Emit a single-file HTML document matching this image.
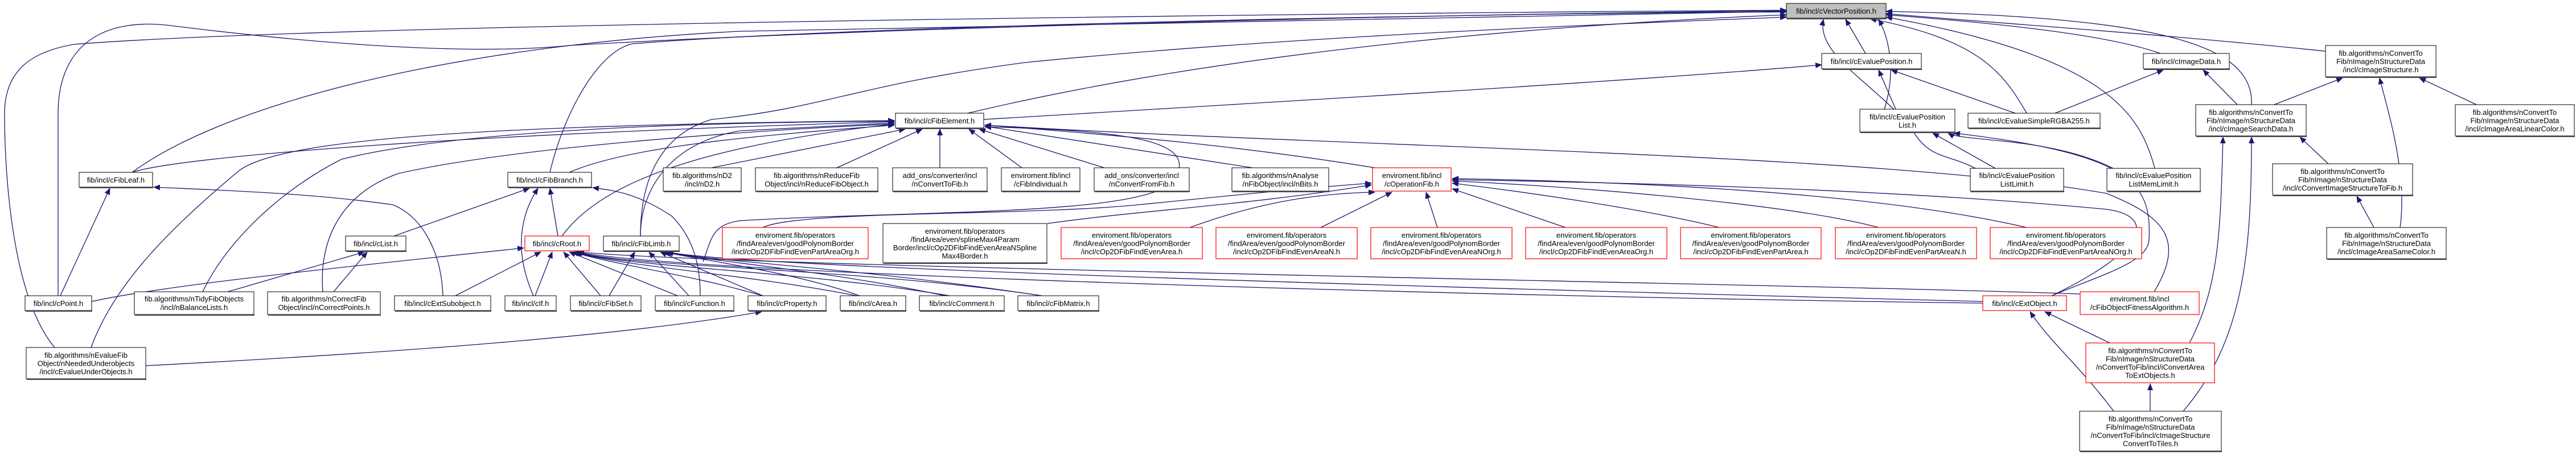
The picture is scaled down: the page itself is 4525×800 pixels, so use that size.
<!DOCTYPE html>
<html><head><meta charset="utf-8"><style>
html,body{margin:0;padding:0;background:#fff;}
svg{display:block;}
text{font-family:"Liberation Sans",Arial,sans-serif;font-size:13px;fill:#000;text-anchor:middle;}
.e{fill:none;stroke:#191970;stroke-width:1.3;marker-end:url(#a);}
.n{fill:#fff;stroke:#000;stroke-width:1;}
.r{fill:#fff;stroke:#ff0000;stroke-width:1.2;}
.g{fill:#bfbfbf;stroke:#000;stroke-width:1;}
</style></head><body>
<svg width="4525" height="800" viewBox="0 0 4525 800" xmlns="http://www.w3.org/2000/svg">
<defs><marker id="a" markerWidth="12" markerHeight="10" refX="11" refY="5" orient="auto" markerUnits="userSpaceOnUse"><path d="M0,0 L12,5 L0,10 z" fill="#191970"/></marker></defs>
<g id="edges">
<path class="e" d="M96 611 C20 520,8 300,8 200 C8 120,60 90,130 78 C600 40,2500 22,3138 18"/>
<path class="e" d="M102 520 L102 200 C102 80,180 30,300 45 C500 70,800 100,1000 80 C1500 50,2500 25,3138 19"/>
<path class="e" d="M232 303 C400 180,800 80,1300 55 L3138 20"/>
<path class="e" d="M966 303 C990 200,1050 90,1111 77 C1500 45,2600 23,3138 21"/>
<path class="e" d="M1700 199 C2200 80,2800 40,3138 26"/>
<path class="e" d="M1125 415 C1125 330,1150 240,1250 210 C1450 190,1500 150,1800 110 C2300 60,2900 40,3138 30"/>
<path class="e" d="M3277 94 L3242 34"/>
<path class="e" d="M3310 192 C3330 130,3320 70,3300 34"/>
<path class="e" d="M3560 199 C3520 130,3480 70,3285 33"/>
<path class="e" d="M3470 296 C3420 270,3390 280,3360 230 C3300 150,3190 100,3203 34"/>
<path class="e" d="M3785 296 C3760 200,3700 100,3313 30"/>
<path class="e" d="M3795 94 C3700 60,3500 40,3313 26"/>
<path class="e" d="M4085 90 C3800 60,3500 40,3313 24"/>
<path class="e" d="M3955 184 C3960 80,3800 30,3313 20"/>
<path class="e" d="M1728 210 C2400 170,2900 140,3200 114"/>
<path class="e" d="M3330 192 L3300 123"/>
<path class="e" d="M3540 199 L3322 123"/>
<path class="e" d="M3610 199 L3800 123"/>
<path class="e" d="M3930 184 L3870 123"/>
<path class="e" d="M3995 184 L4115 137"/>
<path class="e" d="M4350 184 L4250 137"/>
<path class="e" d="M4216 400 C4230 300,4190 180,4180 137"/>
<path class="e" d="M3505 296 L3395 234"/>
<path class="e" d="M3712 296 C3600 240,3450 250,3422 234"/>
<path class="e" d="M3604 520 C3700 480,3775 460,3775 420 C3780 320,3740 270,3432 234"/>
<path class="e" d="M3784 513 C3840 420,3800 380,3700 340 C3300 270,2400 260,1730 220"/>
<path class="e" d="M4090 288 L4040 241"/>
<path class="e" d="M3846 603 C3900 500,3900 400,3905 241"/>
<path class="e" d="M3835 723 C3940 600,3955 450,3955 241"/>
<path class="e" d="M4170 400 L4140 345"/>
<path class="e" d="M3777 723 L3777 675"/>
<path class="e" d="M3706 603 L3592 548"/>
<path class="e" d="M3713 723 C3650 640,3600 600,3566 548"/>
<path class="e" d="M3604 520 C3770 440,3790 380,3700 368 C3300 330,2800 320,2551 316"/>
<path class="e" d="M232 303 C300 280,700 240,1571 214"/>
<path class="e" d="M1000 303 C1100 260,1300 240,1571 220"/>
<path class="e" d="M1250 295 L1590 227"/>
<path class="e" d="M1470 295 L1620 227"/>
<path class="e" d="M1651 295 L1651 227"/>
<path class="e" d="M1795 295 L1702 227"/>
<path class="e" d="M1940 295 L1720 227"/>
<path class="e" d="M2200 295 L1730 222"/>
<path class="e" d="M2415 295 C2200 260,2000 240,1730 220"/>
<path class="e" d="M987 415 C1050 330,1200 260,1571 218"/>
<path class="e" d="M1125 415 C1125 330,1180 250,1300 230 L1571 216"/>
<path class="e" d="M160 611 C200 500,300 400,420 300 C500 240,900 220,1571 212"/>
<path class="e" d="M356 513 C400 420,500 330,600 280 C800 230,1200 215,1571 213"/>
<path class="e" d="M567 513 C560 420,600 340,700 305 C900 260,1300 230,1571 218"/>
<path class="e" d="M1230 520 C1230 470,1220 420,1180 380 C1120 340,1080 335,1041 330"/>
<path class="e" d="M1235 460 C1250 420,1250 395,1300 388 C1600 370,2000 380,2060 320 C2110 250,2000 230,1730 223"/>
<path class="e" d="M692 415 L930 331"/>
<path class="e" d="M937 520 C915 470,900 400,945 331"/>
<path class="e" d="M980 415 L966 331"/>
<path class="e" d="M106 520 L193 331"/>
<path class="e" d="M778 520 C775 440,740 380,690 360 C550 340,400 335,270 329"/>
<path class="e" d="M400 513 L640 443"/>
<path class="e" d="M586 513 L645 443"/>
<path class="e" d="M161 530 C300 500,600 470,920 436"/>
<path class="e" d="M800 520 L950 443"/>
<path class="e" d="M940 520 L970 443"/>
<path class="e" d="M1055 520 L990 443"/>
<path class="e" d="M1190 520 L1000 443"/>
<path class="e" d="M1340 520 C1200 480,1100 470,1005 443"/>
<path class="e" d="M1505 520 C1300 480,1100 470,1008 443"/>
<path class="e" d="M1668 520 C1400 475,1100 470,1010 443"/>
<path class="e" d="M1830 520 C1500 470,1100 470,1012 443"/>
<path class="e" d="M3483 533 C2500 520,1200 480,1012 443"/>
<path class="e" d="M3654 517 C3200 500,1300 470,1015 443"/>
<path class="e" d="M1070 520 L1115 443"/>
<path class="e" d="M1210 520 L1140 443"/>
<path class="e" d="M1340 520 L1160 443"/>
<path class="e" d="M1510 520 C1400 480,1250 460,1165 443"/>
<path class="e" d="M1660 520 C1450 475,1250 460,1168 443"/>
<path class="e" d="M1830 520 C1500 470,1250 460,1170 443"/>
<path class="e" d="M3483 530 C2500 505,1300 470,1172 443"/>
<path class="e" d="M256 643 C700 620,1100 590,1338 548"/>
<path class="e" d="M1340 400 C1400 370,1800 380,2000 360 C2200 340,2300 330,2409 322"/>
<path class="e" d="M1840 393 C2000 370,2200 360,2409 325"/>
<path class="e" d="M2090 400 C2200 360,2300 340,2415 338"/>
<path class="e" d="M2320 400 L2445 338"/>
<path class="e" d="M2525 400 L2505 338"/>
<path class="e" d="M2750 400 L2551 332"/>
<path class="e" d="M3020 400 C2900 370,2700 340,2551 322"/>
<path class="e" d="M3300 400 C3150 360,2800 330,2551 318"/>
<path class="e" d="M3560 400 C3300 340,2900 320,2551 314"/>
</g>
<g id="nodes">
<!-- row 1 -->
<rect class="g" x="3138" y="6" width="175" height="26"/><line x1="3139" y1="33" x2="3314" y2="33" stroke="#444" stroke-width="2"/>
<text x="3225.5" y="24">fib/incl/cVectorPosition.h</text>
<!-- row 2 -->
<rect class="n" x="3200" y="94" width="175" height="27"/><line x1="3201" y1="122" x2="3376" y2="122" stroke="#444" stroke-width="2"/>
<text x="3287.5" y="112.5">fib/incl/cEvaluePosition.h</text>
<rect class="n" x="3765" y="94" width="151" height="27"/><line x1="3766" y1="122" x2="3917" y2="122" stroke="#444" stroke-width="2"/>
<text x="3840.5" y="112.5">fib/incl/cImageData.h</text>
<rect class="n" x="4085" y="80" width="194" height="55"/><line x1="4086" y1="136" x2="4280" y2="136" stroke="#444" stroke-width="2"/>
<text x="4182" y="98">fib.algorithms/nConvertTo</text><text x="4182" y="112.5">Fib/nImage/nStructureData</text><text x="4182" y="127">/incl/cImageStructure.h</text>
<!-- row 3 -->
<rect class="n" x="1573" y="199" width="155" height="26"/><line x1="1574" y1="226" x2="1729" y2="226" stroke="#444" stroke-width="2"/>
<text x="1650.5" y="217">fib/incl/cFibElement.h</text>
<rect class="n" x="3267" y="192" width="167" height="40"/><line x1="3268" y1="233" x2="3435" y2="233" stroke="#444" stroke-width="2"/>
<text x="3350.5" y="210">fib/incl/cEvaluePosition</text><text x="3350.5" y="224.5">List.h</text>
<rect class="n" x="3457" y="199" width="232" height="26"/><line x1="3458" y1="226" x2="3690" y2="226" stroke="#444" stroke-width="2"/>
<text x="3573" y="217">fib/incl/cEvalueSimpleRGBA255.h</text>
<rect class="n" x="3857" y="184" width="194" height="55"/><line x1="3858" y1="240" x2="4052" y2="240" stroke="#444" stroke-width="2"/>
<text x="3954" y="202">fib.algorithms/nConvertTo</text><text x="3954" y="216.5">Fib/nImage/nStructureData</text><text x="3954" y="231">/incl/cImageSearchData.h</text>
<rect class="n" x="4313" y="184" width="209" height="55"/><line x1="4314" y1="240" x2="4523" y2="240" stroke="#444" stroke-width="2"/>
<text x="4417.5" y="202">fib.algorithms/nConvertTo</text><text x="4417.5" y="216.5">Fib/nImage/nStructureData</text><text x="4417.5" y="231">/incl/cImageAreaLinearColor.h</text>
<!-- row 4 -->
<rect class="n" x="139" y="303" width="129" height="26"/><line x1="140" y1="330" x2="269" y2="330" stroke="#444" stroke-width="2"/>
<text x="203.5" y="321">fib/incl/cFibLeaf.h</text>
<rect class="n" x="892" y="303" width="147" height="26"/><line x1="893" y1="330" x2="1040" y2="330" stroke="#444" stroke-width="2"/>
<text x="965.5" y="321">fib/incl/cFibBranch.h</text>
<rect class="n" x="1165" y="295" width="137" height="41"/><line x1="1166" y1="337" x2="1303" y2="337" stroke="#444" stroke-width="2"/>
<text x="1233.5" y="313">fib.algorithms/nD2</text><text x="1233.5" y="328">/incl/nD2.h</text>
<rect class="n" x="1327" y="295" width="215" height="41"/><line x1="1328" y1="337" x2="1543" y2="337" stroke="#444" stroke-width="2"/>
<text x="1434.5" y="313">fib.algorithms/nReduceFib</text><text x="1434.5" y="328">Object/incl/nReduceFibObject.h</text>
<rect class="n" x="1568" y="295" width="166" height="41"/><line x1="1569" y1="337" x2="1735" y2="337" stroke="#444" stroke-width="2"/>
<text x="1651" y="313">add_ons/converter/incl</text><text x="1651" y="328">/nConvertToFib.h</text>
<rect class="n" x="1759" y="295" width="138" height="41"/><line x1="1760" y1="337" x2="1898" y2="337" stroke="#444" stroke-width="2"/>
<text x="1828" y="313">enviroment.fib/incl</text><text x="1828" y="328">/cFibIndividual.h</text>
<rect class="n" x="1922" y="295" width="167" height="41"/><line x1="1923" y1="337" x2="2090" y2="337" stroke="#444" stroke-width="2"/>
<text x="2005.5" y="313">add_ons/converter/incl</text><text x="2005.5" y="328">/nConvertFromFib.h</text>
<rect class="n" x="2164" y="295" width="170" height="41"/><line x1="2165" y1="337" x2="2335" y2="337" stroke="#444" stroke-width="2"/>
<text x="2249" y="313">fib.algorithms/nAnalyse</text><text x="2249" y="328">/nFibObject/incl/nBits.h</text>
<rect class="r" x="2411" y="295" width="138" height="41"/>
<text x="2480" y="313">enviroment.fib/incl</text><text x="2480" y="328">/cOperationFib.h</text>
<rect class="n" x="3461" y="296" width="164" height="40"/><line x1="3462" y1="337" x2="3626" y2="337" stroke="#444" stroke-width="2"/>
<text x="3543" y="313">fib/incl/cEvaluePosition</text><text x="3543" y="328">ListLimit.h</text>
<rect class="n" x="3701" y="296" width="164" height="40"/><line x1="3702" y1="337" x2="3866" y2="337" stroke="#444" stroke-width="2"/>
<text x="3783" y="313">fib/incl/cEvaluePosition</text><text x="3783" y="328">ListMemLimit.h</text>
<rect class="n" x="3992" y="288" width="246" height="55"/><line x1="3993" y1="344" x2="4239" y2="344" stroke="#444" stroke-width="2"/>
<text x="4115" y="306">fib.algorithms/nConvertTo</text><text x="4115" y="320.5">Fib/nImage/nStructureData</text><text x="4115" y="335">/incl/cConvertImageStructureToFib.h</text>
<!-- row 5 -->
<rect class="n" x="607" y="415" width="106" height="26"/><line x1="608" y1="442" x2="714" y2="442" stroke="#444" stroke-width="2"/>
<text x="660" y="433">fib/incl/cList.h</text>
<rect class="r" x="922" y="415" width="113" height="26"/>
<text x="978.5" y="433">fib/incl/cRoot.h</text>
<rect class="n" x="1060" y="415" width="133" height="26"/><line x1="1061" y1="442" x2="1194" y2="442" stroke="#444" stroke-width="2"/>
<text x="1126.5" y="433">fib/incl/cFibLimb.h</text>
<rect class="r" x="1269" y="400" width="256" height="55"/>
<text x="1397" y="418">enviroment.fib/operators</text><text x="1397" y="432.5">/findArea/even/goodPolynomBorder</text><text x="1397" y="447">/incl/cOp2DFibFindEvenPartAreaOrg.h</text>
<rect class="n" x="1551" y="393" width="288" height="69"/><line x1="1552" y1="463" x2="1840" y2="463" stroke="#444" stroke-width="2"/>
<text x="1695" y="411">enviroment.fib/operators</text><text x="1695" y="425.5">/findArea/even/splineMax4Param</text><text x="1695" y="440">Border/incl/cOp2DFibFindEvenAreaNSpline</text><text x="1695" y="454.5">Max4Border.h</text>
<rect class="r" x="1864" y="400" width="248" height="55"/>
<text x="1988" y="418">enviroment.fib/operators</text><text x="1988" y="432.5">/findArea/even/goodPolynomBorder</text><text x="1988" y="447">/incl/cOp2DFibFindEvenArea.h</text>
<rect class="r" x="2136" y="400" width="248" height="55"/>
<text x="2260" y="418">enviroment.fib/operators</text><text x="2260" y="432.5">/findArea/even/goodPolynomBorder</text><text x="2260" y="447">/incl/cOp2DFibFindEvenAreaN.h</text>
<rect class="r" x="2408" y="400" width="248" height="55"/>
<text x="2532" y="418">enviroment.fib/operators</text><text x="2532" y="432.5">/findArea/even/goodPolynomBorder</text><text x="2532" y="447">/incl/cOp2DFibFindEvenAreaNOrg.h</text>
<rect class="r" x="2680" y="400" width="248" height="55"/>
<text x="2804" y="418">enviroment.fib/operators</text><text x="2804" y="432.5">/findArea/even/goodPolynomBorder</text><text x="2804" y="447">/incl/cOp2DFibFindEvenAreaOrg.h</text>
<rect class="r" x="2952" y="400" width="247" height="55"/>
<text x="3075.5" y="418">enviroment.fib/operators</text><text x="3075.5" y="432.5">/findArea/even/goodPolynomBorder</text><text x="3075.5" y="447">/incl/cOp2DFibFindEvenPartArea.h</text>
<rect class="r" x="3224" y="400" width="248" height="55"/>
<text x="3348" y="418">enviroment.fib/operators</text><text x="3348" y="432.5">/findArea/even/goodPolynomBorder</text><text x="3348" y="447">/incl/cOp2DFibFindEvenPartAreaN.h</text>
<rect class="r" x="3496" y="400" width="266" height="55"/>
<text x="3629" y="418">enviroment.fib/operators</text><text x="3629" y="432.5">/findArea/even/goodPolynomBorder</text><text x="3629" y="447">/incl/cOp2DFibFindEvenPartAreaNOrg.h</text>
<rect class="n" x="4087" y="400" width="210" height="55"/><line x1="4088" y1="456" x2="4298" y2="456" stroke="#444" stroke-width="2"/>
<text x="4192" y="418">fib.algorithms/nConvertTo</text><text x="4192" y="432.5">Fib/nImage/nStructureData</text><text x="4192" y="447">/incl/cImageAreaSameColor.h</text>
<!-- row 6 -->
<rect class="n" x="44" y="520" width="117" height="26"/><line x1="45" y1="547" x2="162" y2="547" stroke="#444" stroke-width="2"/>
<text x="102.5" y="538">fib/incl/cPoint.h</text>
<rect class="n" x="236" y="513" width="210" height="40"/><line x1="237" y1="554" x2="447" y2="554" stroke="#444" stroke-width="2"/>
<text x="341" y="530">fib.algorithms/nTidyFibObjects</text><text x="341" y="545">/incl/nBalanceLists.h</text>
<rect class="n" x="470" y="513" width="198" height="40"/><line x1="471" y1="554" x2="669" y2="554" stroke="#444" stroke-width="2"/>
<text x="569" y="530">fib.algorithms/nCorrectFib</text><text x="569" y="545">Object/incl/nCorrectPoints.h</text>
<rect class="n" x="693" y="520" width="169" height="26"/><line x1="694" y1="547" x2="863" y2="547" stroke="#444" stroke-width="2"/>
<text x="777.5" y="538">fib/incl/cExtSubobject.h</text>
<rect class="n" x="887" y="520" width="90" height="26"/><line x1="888" y1="547" x2="978" y2="547" stroke="#444" stroke-width="2"/>
<text x="932" y="538">fib/incl/cIf.h</text>
<rect class="n" x="1002" y="520" width="124" height="26"/><line x1="1003" y1="547" x2="1127" y2="547" stroke="#444" stroke-width="2"/>
<text x="1064" y="538">fib/incl/cFibSet.h</text>
<rect class="n" x="1151" y="520" width="138" height="26"/><line x1="1152" y1="547" x2="1290" y2="547" stroke="#444" stroke-width="2"/>
<text x="1220" y="538">fib/incl/cFunction.h</text>
<rect class="n" x="1314" y="520" width="137" height="26"/><line x1="1315" y1="547" x2="1452" y2="547" stroke="#444" stroke-width="2"/>
<text x="1382.5" y="538">fib/incl/cProperty.h</text>
<rect class="n" x="1476" y="520" width="115" height="26"/><line x1="1477" y1="547" x2="1592" y2="547" stroke="#444" stroke-width="2"/>
<text x="1533.5" y="538">fib/incl/cArea.h</text>
<rect class="n" x="1615" y="520" width="149" height="26"/><line x1="1616" y1="547" x2="1765" y2="547" stroke="#444" stroke-width="2"/>
<text x="1689.5" y="538">fib/incl/cComment.h</text>
<rect class="n" x="1788" y="520" width="142" height="26"/><line x1="1789" y1="547" x2="1931" y2="547" stroke="#444" stroke-width="2"/>
<text x="1859" y="538">fib/incl/cFibMatrix.h</text>
<rect class="r" x="3483" y="520" width="147" height="26"/>
<text x="3556.5" y="538">fib/incl/cExtObject.h</text>
<rect class="r" x="3654" y="513" width="209" height="40"/>
<text x="3758.5" y="530">enviroment.fib/incl</text><text x="3758.5" y="545">/cFibObjectFitnessAlgorithm.h</text>
<!-- row 7 -->
<rect class="n" x="46" y="611" width="210" height="55"/><line x1="47" y1="667" x2="257" y2="667" stroke="#444" stroke-width="2"/>
<text x="151" y="629">fib.algorithms/nEvalueFib</text><text x="151" y="643.5">Object/nNeededUnderobjects</text><text x="151" y="658">/incl/cEvalueUnderObjects.h</text>
<rect class="r" x="3664" y="603" width="226" height="70"/>
<text x="3777" y="621">fib.algorithms/nConvertTo</text><text x="3777" y="635.5">Fib/nImage/nStructureData</text><text x="3777" y="650">/nConvertToFib/incl/iConvertArea</text><text x="3777" y="664.5">ToExtObjects.h</text>
<!-- row 8 -->
<rect class="n" x="3653" y="723" width="249" height="70"/><line x1="3654" y1="794" x2="3903" y2="794" stroke="#444" stroke-width="2"/>
<text x="3777.5" y="741">fib.algorithms/nConvertTo</text><text x="3777.5" y="755.5">Fib/nImage/nStructureData</text><text x="3777.5" y="770">/nConvertToFib/incl/cImageStructure</text><text x="3777.5" y="784.5">ConvertToTiles.h</text>
</g>
</svg>
<script>
(function(){
var rects=[].slice.call(document.querySelectorAll('#nodes rect'));
var texts=[].slice.call(document.querySelectorAll('#nodes text'));
texts.forEach(function(t){
  var cx=parseFloat(t.getAttribute('x')),cy=parseFloat(t.getAttribute('y'));
  var best=null;
  rects.forEach(function(r){
    var x=+r.getAttribute('x'),y=+r.getAttribute('y'),w=+r.getAttribute('width'),h=+r.getAttribute('height');
    if(cx>x&&cx<x+w&&cy>y&&cy<y+h+4)best=w;
  });
  if(best){var L=t.getComputedTextLength();var m=best-12;if(L>m){t.setAttribute('textLength',m);t.setAttribute('lengthAdjust','spacingAndGlyphs');}}
});
})();
</script>
</body></html>
